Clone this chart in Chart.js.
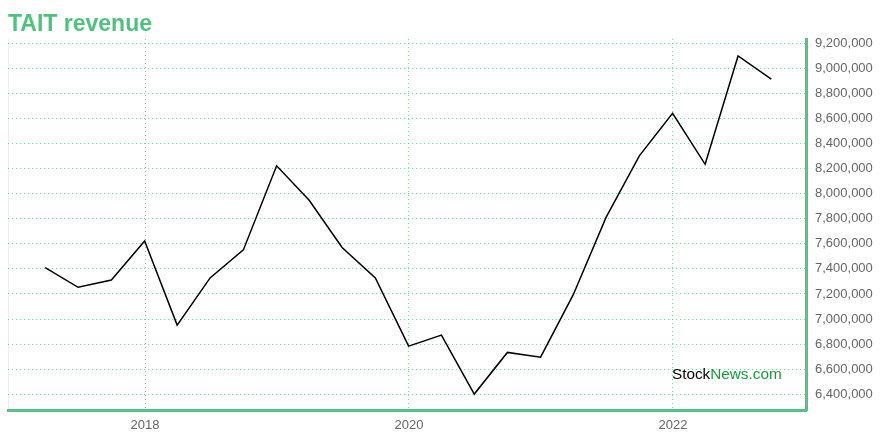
<!DOCTYPE html>
<html>
<head>
<meta charset="utf-8">
<script src="https://cdn.jsdelivr.net/npm/chart.js@4/dist/chart.umd.min.js"></script>
<style>
html,body{margin:0;padding:0;background:#fff;}
canvas{display:block;}
</style>
</head>
<body>
<canvas id="c" width="880" height="440"></canvas>
<script>
const titleText = "TAIT revenue";
const quarterEnds = [
  "2017-03-31","2017-06-30","2017-09-30","2017-12-31",
  "2018-03-31","2018-06-30","2018-09-30","2018-12-31",
  "2019-03-31","2019-06-30","2019-09-30","2019-12-31",
  "2020-03-31","2020-06-30","2020-09-30","2020-12-31",
  "2021-03-31","2021-06-30","2021-09-30","2021-12-31",
  "2022-03-31","2022-06-30","2022-09-30"
];
const revenue = [
  7410000, 7253000, 7311000, 7622000,
  6952000, 7328000, 7551000, 8221000,
  7947000, 7570000, 7328000, 6784000,
  6872000, 6402000, 6734000, 6696000,
  7192000, 7810000, 8301000, 8639000,
  8233000, 9097000, 8913000
];
const xTickYears = [2018, 2020, 2022];
const yTickValues = [6400000,6600000,6800000,7000000,7200000,7400000,7600000,7800000,8000000,8200000,8400000,8600000,8800000,9000000,9200000];

function yearFraction(s){
  const d = new Date(s + "T00:00:00Z");
  const y = d.getUTCFullYear();
  const start = Date.UTC(y,0,1), end = Date.UTC(y+1,0,1);
  return y + (d.getTime() - start) / (end - start);
}
const points = quarterEnds.map((q,i)=>({x: yearFraction(q), y: revenue[i]}));

const GREEN = '#55c386';
const GRID = 'rgba(70,200,120,0.7)';

const decor = {
  id: 'decor',
  beforeDraw(chart){
    const ctx = chart.ctx, a = chart.chartArea;
    ctx.save();
    ctx.strokeStyle = '#ececec';
    ctx.lineWidth = 1;
    ctx.beginPath();
    ctx.moveTo(a.left + 0.5, a.top);
    ctx.lineTo(a.left + 0.5, a.bottom);
    ctx.stroke();
    ctx.restore();
  },
  afterDraw(chart){
    const ctx = chart.ctx;
    ctx.save();
    ctx.font = 'bold 23px "Liberation Sans", Arial, sans-serif';
    ctx.fillStyle = '#4fc27f';
    ctx.textBaseline = 'alphabetic';
    ctx.fillText(titleText, 8, 31);
    ctx.font = '15.3px "Liberation Sans", Arial, sans-serif';
    ctx.fillStyle = '#000';
    ctx.fillText('Stock', 672, 379);
    const w = ctx.measureText('Stock').width;
    ctx.fillStyle = '#159a3c';
    ctx.fillText('News.com', 672 + w, 379);
    ctx.restore();
  }
};

new Chart(document.getElementById('c'), {
  type: 'line',
  data: {
    datasets: [{
      data: points,
      borderColor: '#000',
      borderWidth: 1.5,
      pointRadius: 0,
      tension: 0,
      fill: false
    }]
  },
  options: {
    responsive: false,
    animation: false,
    layout: { padding: { top: 39, left: 8, right: 0, bottom: 0 } },
    plugins: { legend: { display: false }, title: { display: false }, tooltip: { enabled: false } },
    scales: {
      x: {
        type: 'linear',
        min: 2016.962,
        max: 2023.008,
        afterBuildTicks(axis){ axis.ticks = xTickYears.map(v=>({value:v})); },
        afterFit(axis){ axis.height = 30; },
        ticks: {
          callback: v => String(v),
          color: '#666',
          font: { family: '"Liberation Sans", Arial, sans-serif', size: 13 },
          padding: 8,
          maxRotation: 0
        },
        grid: { color: GRID, drawTicks: false, lineWidth: 1 },
        border: { display: true, color: GREEN, width: 3, dash: [1, 3] }
      },
      y: {
        position: 'right',
        min: 6275000,
        max: 9232000,
        afterBuildTicks(axis){ axis.ticks = yTickValues.map(v=>({value:v})); },
        afterFit(axis){ axis.width = 74; },
        ticks: {
          callback: v => Number(v).toLocaleString('en-US'),
          color: '#666',
          font: { family: '"Liberation Sans", Arial, sans-serif', size: 13 },
          padding: 9
        },
        grid: { color: GRID, drawTicks: false, lineWidth: 1 },
        border: { display: true, color: GREEN, width: 3, dash: [1, 3] }
      }
    }
  },
  plugins: [decor]
});
</script>
</body>
</html>
